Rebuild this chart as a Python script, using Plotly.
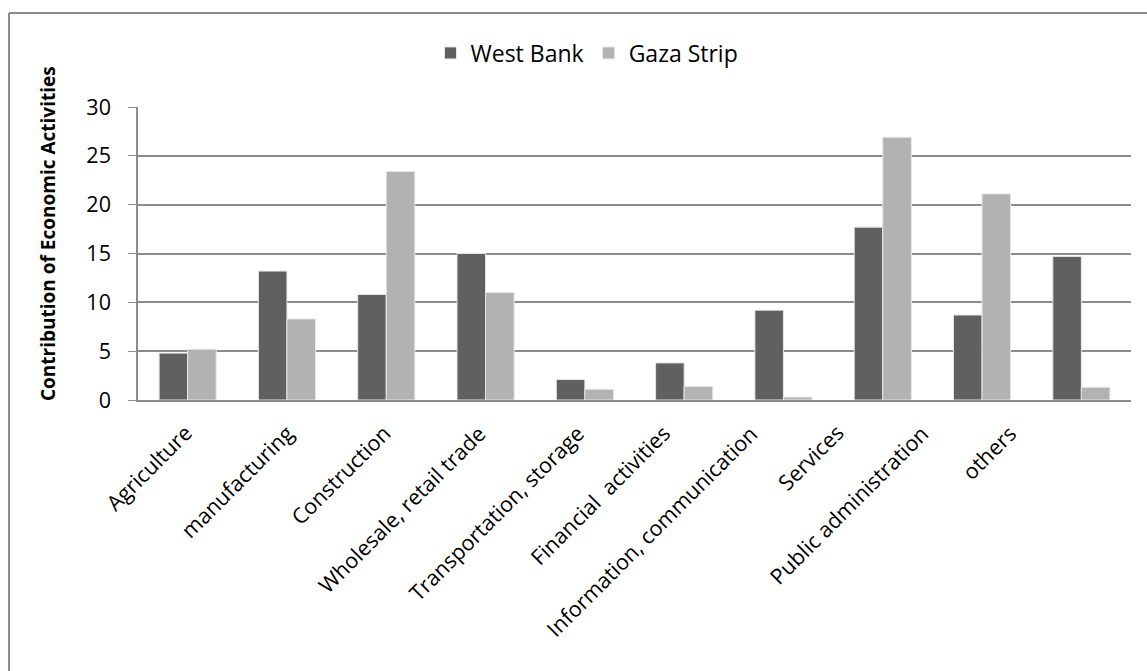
import plotly.graph_objects as go

categories = [
    "Agriculture", "manufacturing", "Construction", "Wholesale, retail trade",
    "Transportation, storage", "Financial  activities", "Information, communication",
    "Services", "Public administration", "others",
]
west_bank = [4.8, 13.2, 10.8, 15.0, 2.1, 3.8, 9.2, 17.7, 8.7, 14.7]
gaza_strip = [5.2, 8.3, 23.4, 11.0, 1.1, 1.4, 0.3, 26.9, 21.1, 1.3]
y_ticks = [0, 5, 10, 15, 20, 25, 30]

# horizontal nudge (px) of each rotated category label relative to its slot
label_shift = [4, 6, 4, 0, -1, -14, -26, -40, -54, -66]

FONT = "Open Sans"
FS = 21.5
W, H = 1147, 671
L, R, T, B = 138, 16, 107, 271
pw, ph = W - L - R, H - T - B

def px_x(x):
    return (x - L) / pw

def px_y(y):
    return (H - B - y) / ph

fig = go.Figure()
fig.add_trace(go.Bar(
    x=categories, y=west_bank, name="West Bank",
    marker=dict(color="#606060", line=dict(color="#e6e6e6", width=1)),
))
fig.add_trace(go.Bar(
    x=categories, y=gaza_strip, name="Gaza Strip",
    marker=dict(color="#b2b2b2", line=dict(color="#e6e6e6", width=1)),
))

annotations = [dict(
    text="<b>Contribution of Economic Activities</b>",
    xref="paper", yref="paper", x=px_x(48), y=px_y(234),
    textangle=-90, showarrow=False, xanchor="center", yanchor="middle",
    font=dict(family=FONT, size=19),
)]
for i, (cat, dx) in enumerate(zip(categories, label_shift)):
    annotations.append(dict(
        text=cat, xref="x", yref="y", x=i, y=0,
        textangle=-45, showarrow=False, xanchor="right", yanchor="top",
        xshift=dx + 9, yshift=-16,
        font=dict(family=FONT, size=FS, color="#000000"),
    ))

fig.update_layout(
    width=W, height=H,
    margin=dict(l=L, r=R, t=T, b=B),
    paper_bgcolor="white", plot_bgcolor="white",
    font=dict(family=FONT, size=FS, color="#000000"),
    barmode="group", bargap=0.425, bargroupgap=0,
    showlegend=True,
    legend=dict(
        orientation="h", x=px_x(587), y=px_y(53), xanchor="center", yanchor="middle",
        font=dict(family=FONT, size=23), itemwidth=30, bgcolor="rgba(0,0,0,0)",
        traceorder="normal",
    ),
    xaxis=dict(
        type="category", categoryorder="array", categoryarray=categories,
        range=[-0.5, len(categories) - 0.5],
        showticklabels=False, showgrid=False, ticks="",
        showline=True, linecolor="#8c8c8c", linewidth=2,
    ),
    yaxis=dict(
        range=[0, 30], tickvals=y_ticks, ticks="outside", ticklen=8,
        tickcolor="#8c8c8c", showline=True, linecolor="#8c8c8c", linewidth=1.5,
        showgrid=True, gridcolor="#8c8c8c", gridwidth=1.5, zeroline=False,
        tickfont=dict(family=FONT, size=FS), ticklabelstandoff=13,
    ),
    annotations=annotations,
    shapes=[
        dict(type="line", xref="paper", yref="paper",
             x0=px_x(9), x1=px_x(9), y0=px_y(13), y1=px_y(H + 5),
             line=dict(color="#8c8c8c", width=2)),
        dict(type="line", xref="paper", yref="paper",
             x0=px_x(9), x1=px_x(W + 5), y0=px_y(13), y1=px_y(13),
             line=dict(color="#8c8c8c", width=2)),
    ],
)

fig.write_html("out.html")
